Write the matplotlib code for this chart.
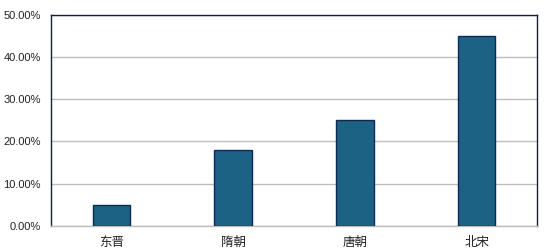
import matplotlib
matplotlib.use("Agg")
import matplotlib.pyplot as plt
from matplotlib.ticker import PercentFormatter

# data
categories = ["东晋", "隋朝", "唐朝", "北宋"]
shares = [5.0, 18.0, 25.0, 45.0]
yticks = [0, 10, 20, 30, 40, 50]

plt.rcParams['font.family'] = ['Liberation Sans', 'Noto Sans CJK SC', 'DejaVu Sans']

fig = plt.figure(figsize=(5.44, 2.52), dpi=100)
ax = fig.add_axes([0.093, 0.104, 0.895, 0.838])

x = range(len(categories))
ax.bar(x, shares, width=0.31, color="#1b6285", edgecolor="#0d2a55", linewidth=1.0, zorder=3)

ax.set_xlim(-0.5, len(categories) - 0.5)
ax.set_ylim(0, 50)
ax.set_yticks(yticks)
ax.yaxis.set_major_formatter(PercentFormatter(decimals=2))
ax.set_xticks(list(x))
ax.set_xticklabels(categories, fontsize=9, family=['Noto Sans CJK SC', 'DejaVu Sans'])
ax.tick_params(axis="y", labelsize=8, length=0, pad=7, colors="#222222")
ax.tick_params(axis="x", length=0, pad=7, colors="#222222")

ax.grid(axis="y", color="#bdbdbd", linewidth=1.0, zorder=0)
for side in ("left", "top", "right"):
    ax.spines[side].set_color("#0d1f4f")
    ax.spines[side].set_linewidth(1.0)
ax.spines["bottom"].set_color("#bdbdbd")
ax.spines["bottom"].set_linewidth(1.0)

fig.savefig("out.png", dpi=100)
